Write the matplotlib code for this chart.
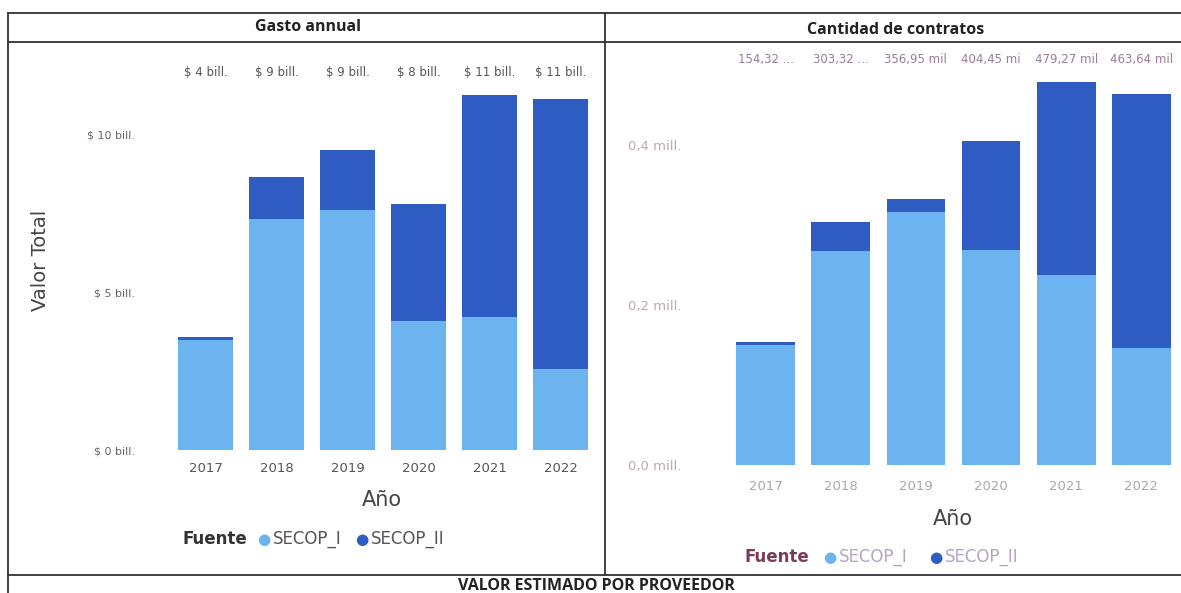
import matplotlib.pyplot as plt
from matplotlib.lines import Line2D
from matplotlib.transforms import blended_transform_factory
import numpy as np

# data
years = ['2017', '2018', '2019', '2020', '2021', '2022']

# Gasto annual, in billones de pesos
gasto_secop_i = [3.48, 7.31, 7.59, 4.08, 4.21, 2.56]
gasto_secop_ii = [0.09, 1.33, 1.90, 3.70, 7.02, 8.54]
gasto_labels = ['$ 4 bill.', '$ 9 bill.', '$ 9 bill.', '$ 8 bill.', '$ 11 bill.', '$ 11 bill.']

# Cantidad de contratos, in miles
contratos_secop_i = [150.0, 267.5, 316.0, 269.0, 237.5, 146.0]
contratos_secop_ii = [4.3, 35.8, 17.0, 135.4, 241.8, 317.6]
contratos_labels = ['154,32 ...', '303,32 ...', '356,95 mil', '404,45 mi', '479,27 mil', '463,64 mil']

gasto_ticks = [0, 5, 10]
gasto_ticklabels = ['$ 0 bill.', '$ 5 bill.', '$ 10 bill.']
contratos_ticks = [0, 200, 400]
contratos_ticklabels = ['0,0 mill.', '0,2 mill.', '0,4 mill.']

LIGHT = '#6cb4f0'
DARK = '#2f5cc2'

W, H = 1181, 593
fig = plt.figure(figsize=(W / 100, H / 100), dpi=100)


def px_axes(x0, y0, x1, y1):
    # pixel box (top-left origin) -> figure axes
    return fig.add_axes([x0 / W, 1 - y1 / H, (x1 - x0) / W, (y1 - y0) / H])


def fx(x):
    return x / W


def fy(y):
    return 1 - y / H


def stacked(ax, bottom_vals, top_vals, width):
    x = np.arange(len(years))
    ax.bar(x, bottom_vals, width=width, color=LIGHT)
    ax.bar(x, top_vals, width=width, bottom=bottom_vals, color=DARK)
    ax.set_xticks(x)
    ax.set_xticklabels(years)
    ax.set_xlim(-0.5, len(years) - 0.5)
    for s in ax.spines.values():
        s.set_visible(False)
    ax.tick_params(length=0)


# table lines
line_kw = dict(color='#333333', lw=1.3, transform=fig.transFigure)
fig.add_artist(Line2D([fx(8), fx(1181)], [fy(13), fy(13)], **line_kw))
fig.add_artist(Line2D([fx(8), fx(1181)], [fy(42), fy(42)], **line_kw))
fig.add_artist(Line2D([fx(8), fx(1181)], [fy(575), fy(575)], **line_kw))
fig.add_artist(Line2D([fx(8), fx(8)], [fy(13), fy(593)], **line_kw))
fig.add_artist(Line2D([fx(605), fx(605)], [fy(13), fy(575)], **line_kw))

fig.text(fx(308), fy(27), 'Gasto annual', ha='center', va='center',
         fontsize=11.5, fontweight='bold', color='#222222', family='Open Sans')
fig.text(fx(896), fy(30), 'Cantidad de contratos', ha='center', va='center',
         fontsize=11.5, fontweight='bold', color='#222222', family='Open Sans')
fig.text(fx(596), fy(586), 'VALOR ESTIMADO POR PROVEEDOR', ha='center', va='center',
         fontsize=11.5, fontweight='bold', color='#222222', family='Open Sans')

# left chart: Gasto annual
ax1 = px_axes(170, 60, 596, 450)
stacked(ax1, gasto_secop_i, gasto_secop_ii, 0.78)
ax1.set_ylim(0, 390 / 31.6)
ax1.set_yticks(gasto_ticks)
ax1.set_yticklabels(gasto_ticklabels, fontsize=8, color='#666666')
ax1.tick_params(axis='y', pad=25)
ax1.tick_params(axis='x', labelsize=9.5, labelcolor='#555555', pad=9)
tr1 = blended_transform_factory(ax1.transData, ax1.transAxes)
for i, lab in enumerate(gasto_labels):
    ax1.text(i, 0.967, lab, transform=tr1, ha='center', va='center',
             fontsize=8.5, color='#555555')
fig.text(fx(382), fy(500), 'Año', ha='center', va='center', fontsize=15, color='#444444')
fig.text(fx(40), fy(260), 'Valor Total', ha='center', va='center', fontsize=14,
         rotation=90, color='#444444')
fig.text(fx(182), fy(539), 'Fuente', ha='left', va='center', fontsize=12,
         fontweight='bold', color='#333333')
fig.text(fx(257), fy(539), '●', ha='left', va='center', fontsize=11, color=LIGHT)
fig.text(fx(273), fy(539), 'SECOP_I', ha='left', va='center', fontsize=12, color='#555555')
fig.text(fx(355), fy(539), '●', ha='left', va='center', fontsize=11, color=DARK)
fig.text(fx(371), fy(539), 'SECOP_II', ha='left', va='center', fontsize=12, color='#555555')

# right chart: Cantidad de contratos
ax2 = px_axes(728, 50, 1179, 465)
stacked(ax2, contratos_secop_i, contratos_secop_ii, 0.78)
ax2.set_ylim(0, 415 / 0.8)
ax2.set_yticks(contratos_ticks)
ax2.set_yticklabels(contratos_ticklabels, fontsize=9.5, color='#c0a8b0')
for t in ax2.get_yticklabels():
    t.set_horizontalalignment('left')
ax2.tick_params(axis='y', pad=72)
ax2.tick_params(axis='x', labelsize=9.5, labelcolor='#a8a8a8', pad=11)
tr2 = blended_transform_factory(ax2.transData, ax2.transAxes)
for i, lab in enumerate(contratos_labels):
    ax2.text(i, 0.976, lab, transform=tr2, ha='center', va='center',
             fontsize=8.5, color='#9a7c9a')
fig.text(fx(953), fy(519), 'Año', ha='center', va='center', fontsize=15, color='#444444')
fig.text(fx(745), fy(557), 'Fuente', ha='left', va='center', fontsize=12,
         fontweight='bold', color='#7a3b5c')
fig.text(fx(823), fy(557), '●', ha='left', va='center', fontsize=11, color=LIGHT)
fig.text(fx(839), fy(557), 'SECOP_I', ha='left', va='center', fontsize=12, color='#b8a4c0')
fig.text(fx(929), fy(557), '●', ha='left', va='center', fontsize=11, color=DARK)
fig.text(fx(945), fy(557), 'SECOP_II', ha='left', va='center', fontsize=12, color='#b8a4c0')

fig.savefig('out.png', dpi=100)
